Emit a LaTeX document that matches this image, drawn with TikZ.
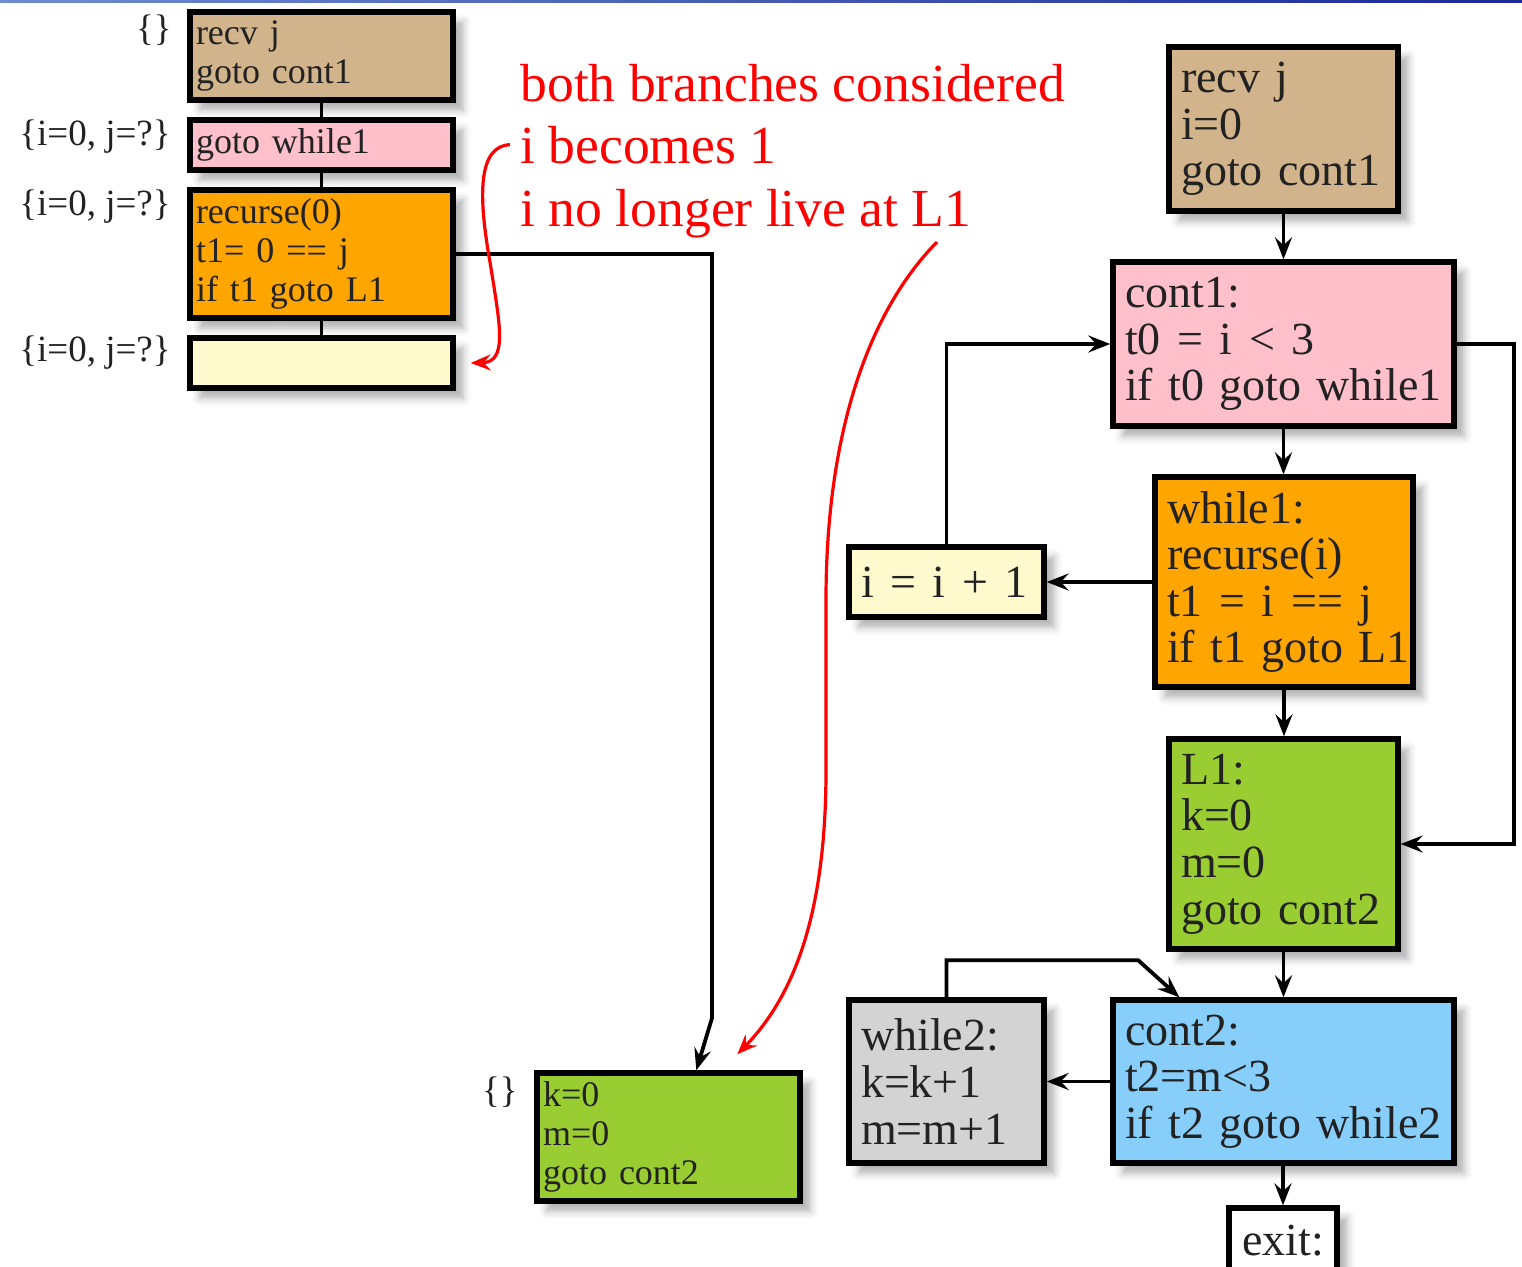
\documentclass[tikz,border=0pt]{standalone}
\usepackage{fontspec}
\setmainfont{Liberation Serif}
\usetikzlibrary{arrows.meta,calc,shadows.blur}

\definecolor{cTan}{RGB}{210,180,140}
\definecolor{cPink}{RGB}{255,192,203}
\definecolor{cOrange}{RGB}{255,165,0}
\definecolor{cCream}{RGB}{255,250,205}
\definecolor{cGreen}{RGB}{154,205,50}
\definecolor{cGray}{RGB}{211,211,211}
\definecolor{cSky}{RGB}{135,206,250}
\definecolor{cBarL}{RGB}{110,140,210}
\definecolor{cBarR}{RGB}{30,40,150}
\definecolor{cInk}{RGB}{34,34,34}

\begin{document}
\begin{tikzpicture}[x=0.5pt,y=-0.5pt,
  box/.style={draw=black, line width=2.7pt, align=left, inner ysep=0pt, text=cInk,
    blur shadow={shadow xshift=5pt, shadow yshift=-5pt, shadow blur radius=4pt, shadow opacity=32}},
  small/.style={box, inner xsep=3pt, font=\fontsize{18}{19.5}\selectfont},
  big/.style={box, inner xsep=6pt, font=\fontsize{23}{23.3}\selectfont},
  lbl/.style={anchor=east, inner sep=0pt, text=cInk, font=\fontsize{18.5}{19.5}\selectfont},
  remark/.style={anchor=base west, inner sep=0pt, text=red, font=\fontsize{26.8}{31}\selectfont},
  link/.style={line width=1.9pt},
  flow/.style={line width=1.9pt, -{Stealth[length=11pt,width=8.5pt,inset=4pt]}},
  note/.style={draw=red, line width=1.6pt, -{Stealth[length=10pt,width=8pt,inset=3.5pt]}},
]
\useasboundingbox (0,0) rectangle (1522,1266);

% header rule
\shade[left color=cBarL, right color=cBarR] (0,0) rectangle (1522,2.5);

% ---- left: annotated copy of the first blocks ----
\node[small, fill=cTan, minimum width=131.5pt, minimum height=44pt, text width=125.5pt] (A) at (321.5,56)
  {recv j\\goto cont1};
\node[small, fill=cPink, minimum width=131.5pt, minimum height=25pt, text width=125.5pt] (B) at (321.5,145)
  {goto while1};
\node[small, fill=cOrange, minimum width=131.5pt, minimum height=64pt, text width=125.5pt] (C) at (321.5,254)
  {recurse(0)\\t1= 0 == j\\if t1 goto L1};
\node[small, fill=cCream, minimum width=131.5pt, minimum height=25pt, text width=125.5pt] (D) at (321.5,363) {};
\node[small, fill=cGreen, minimum width=131.5pt, minimum height=64pt, text width=125.5pt] (G) at (668.5,1137)
  {k=0\\m=0\\goto cont2};

\node[lbl] (la) at (172,30) {\{\}};
\node[lbl] (lb) at (171,137) {\{i=0, j=?\}};
\node[lbl] (lc) at (171,207) {\{i=0, j=?\}};
\node[lbl] (ld) at (171,353) {\{i=0, j=?\}};
\node[lbl] (lg) at (518,1092) {\{\}};

\draw[link] (A.south) -- (B.north);
\draw[link] (B.south) -- (C.north);
\draw[link] (C.south) -- (D.north);
\draw[flow] (C.east) -| (712,1018) -- ([xshift=81pt]G.north west);

% ---- remarks ----
\node[remark] (n1) at (520,101) {both branches considered};
\node[remark] (n2) at (520,163) {i becomes 1};
\node[remark] (n3) at (520,226) {i no longer live at L1};
\coordinate (m) at (937,242);

\draw[note] ([xshift=-5pt]n2.west) .. controls (478,146) and (478,195) .. (490,262)
  .. controls (500,325) and (508,362) .. ([xshift=7.5pt]D.east);
\draw[note] (m) .. controls (870,310) and (826,430) .. (826,600) -- (826,770)
  .. controls (826,900) and (800,990) .. ([xshift=101.5pt,yshift=8pt]G.north west);

% ---- right: control-flow graph ----
\node[big, fill=cTan, minimum width=114.5pt, minimum height=82pt, text width=102.5pt] (R1) at (1283.5,129)
  {recv j\\i=0\\goto cont1};
\node[big, fill=cPink, minimum width=170.5pt, minimum height=82pt, text width=158.5pt] (R2) at (1283.5,344)
  {cont1:\\t0\hspace{0.36em}=\hspace{0.36em}i\hspace{0.36em}<\hspace{0.36em}3\\\mbox{if t0 goto while1}};
\node[big, fill=cOrange, minimum width=129pt, minimum height=105pt, text width=117pt] (R3) at (1284,582)
  {while1:\\recurse(i)\\t1\hspace{0.36em}=\hspace{0.36em}i\hspace{0.36em}==\hspace{0.36em}j\\\mbox{if t1 goto L1}};
\node[big, fill=cCream, minimum width=97.5pt, minimum height=35pt, text width=85.5pt] (R4) at (946.5,582)
  {\mbox{i\hspace{0.36em}=\hspace{0.36em}i\hspace{0.36em}+\hspace{0.36em}1}};
\node[big, fill=cGreen, minimum width=114.5pt, minimum height=105pt, text width=102.5pt] (R5) at (1283.5,844)
  {L1:\\k=0\\m=0\\\mbox{goto cont2}};
\node[big, fill=cGray, minimum width=97.5pt, minimum height=81.5pt, text width=85.5pt] (R6) at (946.5,1081.5)
  {while2:\\k=k+1\\m=m+1};
\node[big, fill=cSky, minimum width=170.5pt, minimum height=81.5pt, text width=158.5pt] (R7) at (1283.5,1081.5)
  {cont2:\\t2=m<3\\\mbox{if t2 goto while2}};
\node[big, fill=white, align=center, minimum width=54pt, minimum height=33pt] (R8) at (1283,1241) {exit:};

\draw[flow] (R1.south) -- (R2.north);
\draw[flow] (R2.south) -- (R2.south |- R3.north);
\draw[flow] (R3.west) -- (R4.east);
\draw[flow] (R4.north) |- (R2.west);
\draw[flow] (R2.east) -- ++(57,0) |- (R5.east);
\draw[flow] (R3.south) -- (R3.south |- R5.north);
\draw[flow] (R5.south) -- (R5.south |- R7.north);
\draw[flow] (R7.west) -- (R6.east);
\draw[flow] (R6.north) |- ($(R7.north west)+(28,-37)$) -- ($(R7.north west)+(69,0)$);
\draw[flow] (R7.south) -- (R7.south -| R8.north) -- (R8.north);
\end{tikzpicture}
\end{document}
